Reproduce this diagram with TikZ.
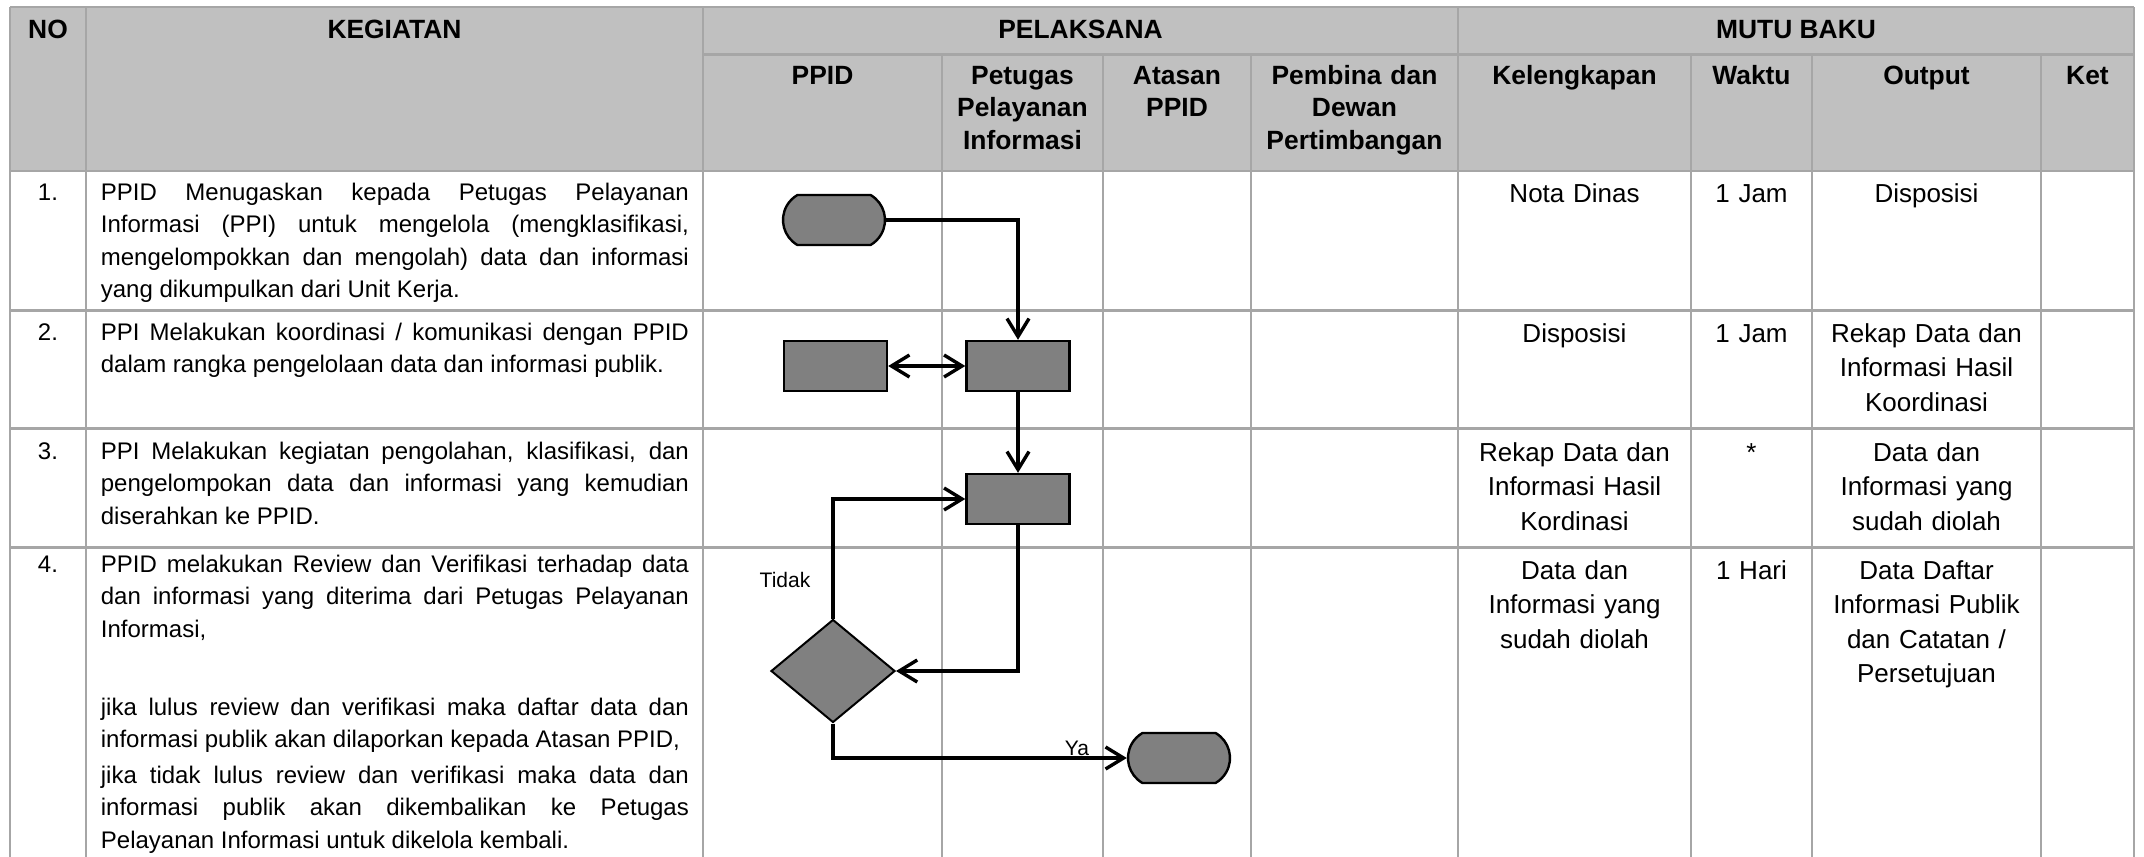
\documentclass[tikz,border=0pt]{standalone}
\usepackage{fontspec}
\setmainfont{Liberation Sans}
\usepackage{tikz}
\usetikzlibrary{arrows.meta, shapes.geometric, shapes.misc}

\definecolor{hdrgray}{HTML}{C0C0C0}
\definecolor{gridgray}{HTML}{A6A6A6}
\definecolor{boxgray}{HTML}{808080}

\newcommand{\kegfont}{\fontsize{12}{16.3}\selectfont}
\newcommand{\hdrfont}{\bfseries\fontsize{13.2}{16.4}\selectfont}
\newcommand{\mutufont}{\fontsize{13}{17.3}\selectfont}
\newcommand{\lblfont}{\fontsize{10.5}{12}\selectfont}

\begin{document}
\begin{tikzpicture}[x=0.5pt, y=-0.5pt,
    grid/.style={draw=gridgray, line width=1.4pt},
    hdr/.style={font=\hdrfont, inner sep=0pt, anchor=base},
    hdrmulti/.style={hdr, align=center, text width=#1},
    keg/.style={font=\kegfont, text width=294pt, align=justify, inner sep=0pt, anchor=base west,
      execute at begin node={\tolerance=10000\hyphenpenalty=10000}},
    nomor/.style={font=\kegfont, inner sep=0pt, anchor=base},
    mutu/.style={font=\mutufont, align=center, text width=#1, inner sep=0pt, anchor=base},
    lbl/.style={font=\lblfont, inner sep=0pt, anchor=base},
    proses/.style={rectangle, draw=black, fill=boxgray, line width=1.2pt, minimum width=51.5pt, minimum height=25pt, inner sep=0pt},
    terminal/.style={proses, rounded rectangle, rounded rectangle arc length=120, minimum width=51pt},
    putusan/.style={proses, diamond, line width=1pt, minimum width=62pt, minimum height=51.5pt},
    alur/.style={line width=1.7pt, -{Straight Barb[length=9pt, width=11pt]}},
    alurdua/.style={line width=1.7pt, {Straight Barb[length=9pt, width=11pt]}-{Straight Barb[length=9pt, width=11pt]}}]
  \useasboundingbox (0,0) rectangle (2144,857);
  \fill[hdrgray] (10,7) rectangle (2134,171);

  \draw[grid] (10,7) -- (2134,7);
  \draw[grid] (703,54.5) -- (2134,54.5);
  \draw[grid] (10,171) -- (2134,171);
  \draw[grid] (10,310.5) -- (2134,310.5);
  \draw[grid] (10,428.5) -- (2134,428.5);
  \draw[grid] (10,547.5) -- (2134,547.5);
  \draw[grid] (10,7) -- (10,857);
  \draw[grid] (86,7) -- (86,857);
  \draw[grid] (703,7) -- (703,857);
  \draw[grid] (942,54.5) -- (942,857);
  \draw[grid] (1103,54.5) -- (1103,857);
  \draw[grid] (1251,54.5) -- (1251,857);
  \draw[grid] (1458,7) -- (1458,857);
  \draw[grid] (1691,54.5) -- (1691,857);
  \draw[grid] (1812,54.5) -- (1812,857);
  \draw[grid] (2041,54.5) -- (2041,857);
  \draw[grid] (2134,7) -- (2134,857);

  \node[hdr] (no) at (48,38) {NO};
  \node[hdr] (kegiatan) at (394.5,38) {KEGIATAN};
  \node[hdr] (pelaksana) at (1080.5,38) {PELAKSANA};
  \node[hdr] (mutubaku) at (1796,38) {MUTU BAKU};
  \node[hdr] (hppid) at (822.5,84) {PPID};
  \node[hdrmulti=78pt] (hppi) at (1022.5,84) {Petugas\\Pelayanan\\Informasi};
  \node[hdrmulti=72pt] (hatasan) at (1177,84) {Atasan\\PPID};
  \node[hdrmulti=100pt] (hpembina) at (1354.5,84) {Pembina dan\\Dewan\\Pertimbangan};
  \node[hdr] (hlengkap) at (1574.5,84) {Kelengkapan};
  \node[hdr] (hwaktu) at (1751.5,84) {Waktu};
  \node[hdr] (houtput) at (1926.5,84) {Output};
  \node[hdr] (hket) at (2087.5,84) {Ket};

  \node[nomor] (n1) at (48,200) {1.};
  \node[keg] (k1) at (100.5,200) {PPID Menugaskan kepada Petugas Pelayanan\linebreak Informasi (PPI) untuk mengelola (mengklasifikasi,\linebreak mengelompokkan dan mengolah) data dan informasi\linebreak yang dikumpulkan dari Unit Kerja.};
  \node[nomor] (n2) at (48,340) {2.};
  \node[keg] (k2) at (100.5,340) {PPI Melakukan koordinasi / komunikasi dengan PPID\linebreak dalam rangka pengelolaan data dan informasi publik.};
  \node[nomor] (n3) at (48,459) {3.};
  \node[keg] (k3) at (100.5,459) {PPI Melakukan kegiatan pengolahan, klasifikasi, dan\linebreak pengelompokan data dan informasi yang kemudian\linebreak diserahkan ke PPID.};
  \node[nomor] (n4) at (48,572) {4.};
  \node[keg] (k4a) at (100.5,572) {PPID melakukan Review dan Verifikasi terhadap data\linebreak dan informasi yang diterima dari Petugas Pelayanan\linebreak Informasi,};
  \node[keg] (k4b) at (100.5,715) {jika lulus review dan verifikasi maka daftar data dan\linebreak informasi publik akan dilaporkan kepada Atasan PPID,};
  \node[keg] (k4c) at (100.5,783) {jika tidak lulus review dan verifikasi maka data dan\linebreak informasi publik akan dikembalikan ke Petugas\linebreak Pelayanan Informasi untuk dikelola kembali.};

  \node[mutu=110pt] (m1a) at (1574.5,202) {Nota Dinas};
  \node[mutu=55pt] (m1b) at (1751.5,202) {1 Jam};
  \node[mutu=110pt] (m1c) at (1926.5,202) {Disposisi};
  \node[mutu=110pt] (m2a) at (1574.5,342) {Disposisi};
  \node[mutu=55pt] (m2b) at (1751.5,342) {1 Jam};
  \node[mutu=110pt] (m2c) at (1926.5,342) {Rekap Data dan\\Informasi Hasil\\Koordinasi};
  \node[mutu=110pt] (m3a) at (1574.5,461) {Rekap Data dan\\Informasi Hasil\\Kordinasi};
  \node[mutu=55pt] (m3b) at (1751.5,461) {*};
  \node[mutu=110pt] (m3c) at (1926.5,461) {Data dan\\Informasi yang\\sudah diolah};
  \node[mutu=110pt] (m4a) at (1574.5,579) {Data dan\\Informasi yang\\sudah diolah};
  \node[mutu=55pt] (m4b) at (1751.5,579) {1 Hari};
  \node[mutu=110pt] (m4c) at (1926.5,579) {Data Daftar\\Informasi Publik\\dan Catatan /\\Persetujuan};

  \node[terminal] (mulai) at (834,220) {};
  \node[proses] (ppid) at (835.5,366) {};
  \node[proses] (ppi) at (1018,366) {};
  \node[proses] (olah) at (1018,499) {};
  \node[putusan] (review) at (833,671) {};
  \node[terminal] (selesai) at (1179,758) {};
  \draw[alur] (mulai.east) -| (ppi.north);
  \draw[alurdua] (ppid.east) -- (ppi.west);
  \draw[alur] (ppi.south) -- (olah.north);
  \draw[alur] (olah.south) |- (review.east);
  \draw[alur] (review.north) |- (olah.west);
  \draw[alur] (review.south) |- (selesai.west);
  \node[lbl] (tidak) at (785,587) {Tidak};
  \node[lbl] (ya) at (1077,755) {Ya};
\end{tikzpicture}
\end{document}
